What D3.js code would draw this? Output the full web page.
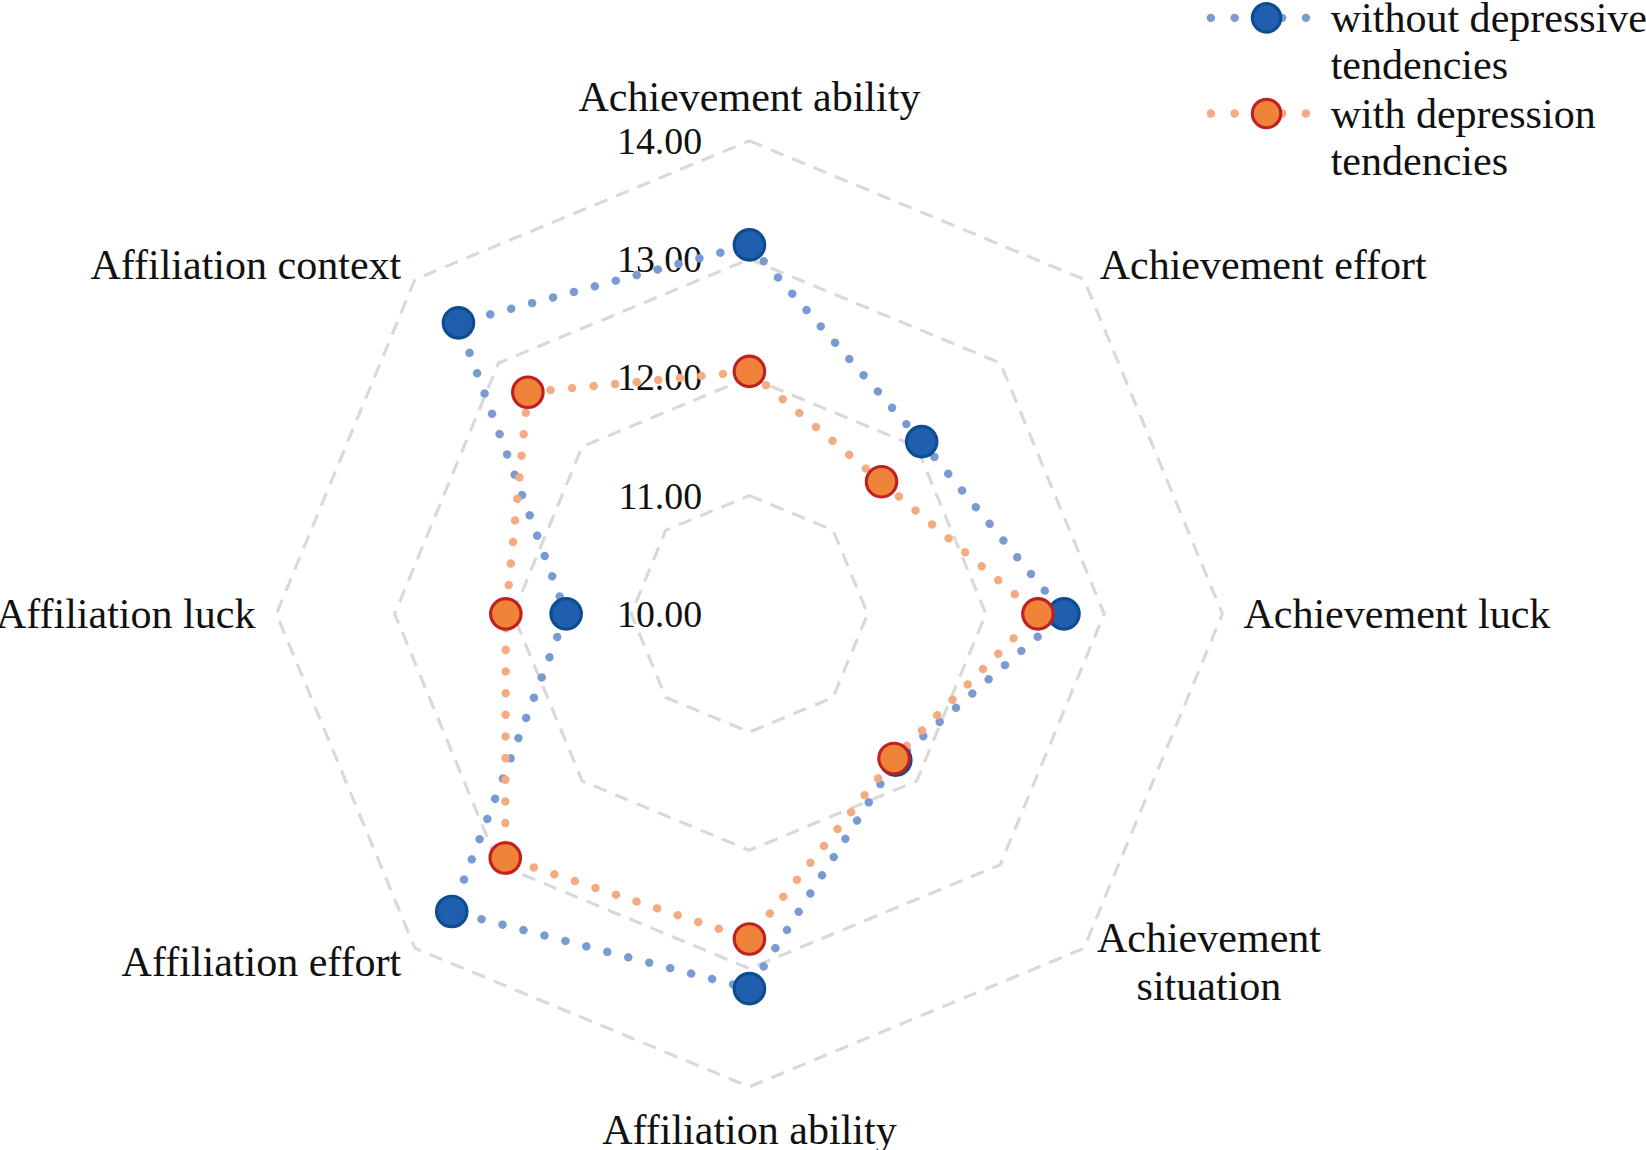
<!DOCTYPE html>
<html>
<head>
<meta charset="utf-8">
<script src="https://cdn.jsdelivr.net/npm/d3@7"></script>
<style>
body { margin: 0; background: #fff; }
</style>
</head>
<body>
<svg id="chart" width="1646" height="1150"></svg>
<script>
var svg = d3.select("#chart");
// layout worked out on a 1566-wide copy, scaled up to the page
var g = svg.append("g").attr("transform", "scale(" + (1646 / 1566) + ")");

var axes = ["Achievement ability", "Achievement effort", "Achievement luck", "Achievement situation",
	"Affiliation ability", "Affiliation effort", "Affiliation luck", "Affiliation context"];
var withoutDep = [13.12, 12.06, 12.66, 11.75, 13.17, 13.56, 11.55, 13.48];
var withDep = [12.05, 11.58, 12.44, 11.73, 12.75, 12.92, 12.06, 12.65];
var ticks = [10, 11, 12, 13, 14];

var cx = 713, cy = 584;
var font = "'Liberation Serif', 'Times New Roman', serif";

var r = d3.scaleLinear().domain([10, 14]).range([0, 450]);
var angle = d3.scaleLinear().domain([0, axes.length]).range([0, 2 * Math.PI]);

function pt(i, v) {
	var a = angle(i);
	return [cx + r(v) * Math.sin(a), cy - r(v) * Math.cos(a)];
}

// grid octagons
ticks.slice(1).forEach(function(t) {
	var pts = axes.map(function(d, i) { return pt(i, t); });
	g.append("path")
		.attr("d", d3.line()(pts) + "Z")
		.attr("fill", "none")
		.attr("stroke", "#d9d9d9")
		.attr("stroke-width", 3)
		.attr("stroke-dasharray", "13,9");
});

// tick labels
ticks.forEach(function(t) {
	g.append("text")
		.attr("x", cx - 45)
		.attr("y", cy - r(t))
		.attr("text-anchor", "end")
		.attr("dominant-baseline", "central")
		.attr("font-family", font)
		.attr("font-size", 36)
		.attr("fill", "#111")
		.text(t.toFixed(2));
});

// axis labels
var labelPos = [
	{dx: 0, dy: -42, anchor: "middle"},
	{dx: 15, dy: -14, anchor: "start"},
	{dx: 20, dy: 0, anchor: "start"},
	{dx: 119, dy: -10, anchor: "middle", lines: ["Achievement", "situation"]},
	{dx: 0, dy: 41, anchor: "middle"},
	{dx: -13, dy: 13, anchor: "end"},
	{dx: -20, dy: 0, anchor: "end"},
	{dx: -13, dy: -14, anchor: "end"}
];
axes.forEach(function(name, i) {
	var p = pt(i, 14), lp = labelPos[i];
	var lines = lp.lines || [name];
	var t = g.append("text")
		.attr("text-anchor", lp.anchor)
		.attr("font-family", font)
		.attr("font-size", 40)
		.attr("fill", "#111");
	lines.forEach(function(l, k) {
		t.append("tspan")
			.attr("x", p[0] + lp.dx)
			.attr("y", p[1] + lp.dy + k * 46)
			.attr("dominant-baseline", "central")
			.text(l);
	});
});

var series = [
	{name: ["without depressive", "tendencies"], values: withoutDep, line: "#7a9bd2", fill: "#1f5fae", stroke: "#0e4c92"},
	{name: ["with depression", "tendencies"], values: withDep, line: "#f4ab82", fill: "#f0833a", stroke: "#c0201f"}
];

series.forEach(function(s) {
	var pts = s.values.map(function(v, i) { return pt(i, v); });
	g.append("path")
		.attr("d", d3.line()(pts) + "Z")
		.attr("fill", "none")
		.attr("stroke", s.line)
		.attr("stroke-width", 8)
		.attr("stroke-linecap", "round")
		.attr("stroke-dasharray", "0.1,20.5");
});
series.forEach(function(s) {
	s.values.forEach(function(v, i) {
		var p = pt(i, v);
		g.append("circle")
			.attr("cx", p[0])
			.attr("cy", p[1])
			.attr("r", 14.5)
			.attr("fill", s.fill)
			.attr("stroke", s.stroke)
			.attr("stroke-width", 3);
	});
});

// legend
series.forEach(function(s, k) {
	var y = 17 + k * 91;
	g.append("line")
		.attr("x1", 1152).attr("x2", 1250)
		.attr("y1", y).attr("y2", y)
		.attr("stroke", s.line)
		.attr("stroke-width", 8)
		.attr("stroke-linecap", "round")
		.attr("stroke-dasharray", "0.1,22.5");
	g.append("circle")
		.attr("cx", 1205).attr("cy", y)
		.attr("r", 13.5)
		.attr("fill", s.fill)
		.attr("stroke", s.stroke)
		.attr("stroke-width", 3);
	s.name.forEach(function(l, j) {
		g.append("text")
			.attr("x", 1266)
			.attr("y", y + j * 45)
			.attr("dominant-baseline", "central")
			.attr("font-family", font)
			.attr("font-size", 40)
			.attr("fill", "#111")
			.text(l);
	});
});
</script>
</body>
</html>
